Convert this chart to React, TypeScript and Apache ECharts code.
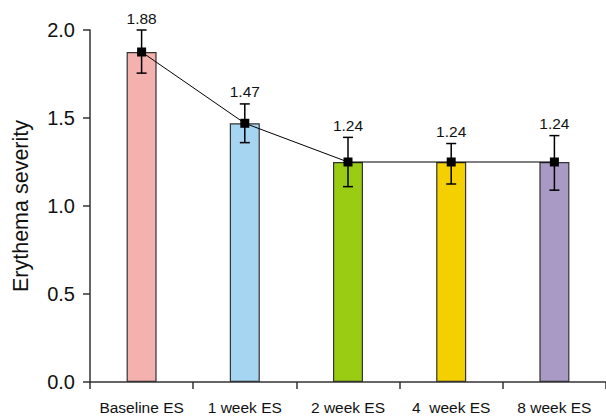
import React, { useEffect, useRef } from "react";
import * as echarts from "echarts";

const categories = ["Baseline ES", "1 week ES", "2 week ES", "4  week ES", "8 week ES"];
const means = [1.875, 1.47, 1.25, 1.25, 1.25];
const meanLabels = ["1.88", "1.47", "1.24", "1.24", "1.24"];
const errLow = [1.755, 1.36, 1.11, 1.125, 1.09];
const errHigh = [2.0, 1.58, 1.39, 1.355, 1.4];
const barColors = ["#F4B1AE", "#A6D5F2", "#9BCC14", "#F4D000", "#A89AC4"];
const yTicks = [0, 0.5, 1.0, 1.5, 2.0];

const FONT = "Liberation Sans, Arial, sans-serif";

export default function App() {
  const ref = useRef<HTMLDivElement>(null);
  useEffect(() => {
    if (!ref.current) return;
    const chart = echarts.init(ref.current, undefined, { renderer: "svg" });
    const errData = categories.map((_, i) => [i, errLow[i], errHigh[i], meanLabels[i]]);
    chart.setOption({
      animation: false,
      textStyle: { fontFamily: FONT },
      grid: { left: 90, top: 30, right: 0, bottom: 34, containLabel: false },
      xAxis: {
        type: "category",
        data: categories,
        boundaryGap: true,
        axisLine: { lineStyle: { color: "#333", width: 1.5 } },
        axisTick: { show: true, length: 7, lineStyle: { color: "#333", width: 1.5 } },
        axisLabel: { color: "#111", fontSize: 15.5, margin: 17, fontFamily: FONT, interval: 0 },
      },
      yAxis: {
        type: "value",
        min: yTicks[0],
        max: yTicks[yTicks.length - 1],
        interval: 0.5,
        name: "Erythema severity",
        nameLocation: "middle",
        nameGap: 58,
        nameTextStyle: { color: "#111", fontSize: 21.5, fontFamily: FONT },
        axisLine: { show: true, lineStyle: { color: "#333", width: 1.5 } },
        axisTick: { show: true, length: 7, lineStyle: { color: "#333", width: 1.5 } },
        axisLabel: {
          color: "#111",
          fontSize: 20,
          margin: 15,
          fontFamily: FONT,
          formatter: (v: number) => v.toFixed(1),
        },
        splitLine: { show: false },
      },
      series: [
        {
          type: "bar",
          data: means.map((v, i) => ({
            value: v,
            itemStyle: { color: barColors[i], borderColor: "#333", borderWidth: 1.2 },
          })),
          barWidth: 30,
          z: 1,
        },
        {
          type: "custom",
          data: errData,
          z: 2,
          renderItem: (params: any, api: any) => {
            const lo = api.coord([api.value(0), api.value(1)]);
            const hi = api.coord([api.value(0), api.value(2)]);
            const x = lo[0];
            const cap = 5;
            const st = { stroke: "#000", lineWidth: 1.5 };
            return {
              type: "group",
              children: [
                { type: "line", shape: { x1: x, y1: lo[1], x2: x, y2: hi[1] }, style: st },
                { type: "line", shape: { x1: x - cap, y1: lo[1], x2: x + cap, y2: lo[1] }, style: st },
                { type: "line", shape: { x1: x - cap, y1: hi[1], x2: x + cap, y2: hi[1] }, style: st },
                {
                  type: "text",
                  x: x,
                  y: hi[1] - 4,
                  style: {
                    text: meanLabels[params.dataIndex],
                    fill: "#111",
                    fontSize: 15.5,
                    fontFamily: FONT,
                    align: "center",
                    verticalAlign: "bottom",
                  },
                },
              ],
            };
          },
        },
        {
          type: "line",
          data: means,
          symbol: "rect",
          symbolSize: 9,
          itemStyle: { color: "#000" },
          lineStyle: { color: "#000", width: 1 },
          z: 3,
        },
      ],
    });
    return () => chart.dispose();
  }, []);
  return (
    <div
      ref={ref}
      style={{ position: "fixed", left: 0, top: 0, width: 606, height: 416, background: "#fff" }}
    />
  );
}
